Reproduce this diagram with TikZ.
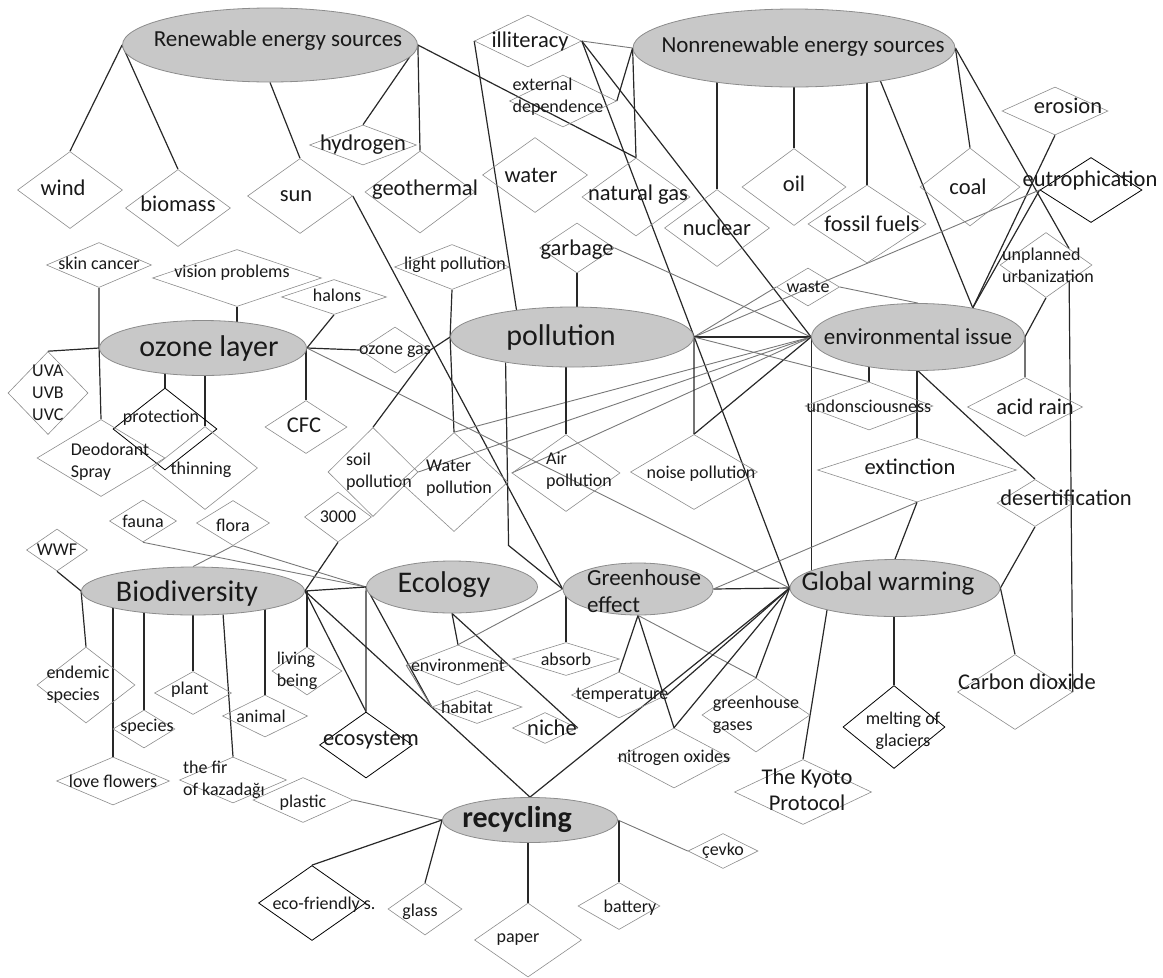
\documentclass[tikz,border=0pt]{standalone}
\usepackage{fontspec}
\setmainfont{Carlito}
\usetikzlibrary{shapes.geometric}
\definecolor{ellfill}{RGB}{200,200,200}
\definecolor{ellline}{RGB}{140,140,140}
\definecolor{dialine}{RGB}{140,140,140}
\definecolor{tiedark}{RGB}{40,40,40}
\definecolor{tiegrey}{RGB}{120,120,120}
\definecolor{txtcol}{RGB}{25,25,25}
\pgfdeclarelayer{bg}
\pgfsetlayers{bg,main}
\tikzset{
  topic/.style 2 args={ellipse, draw=ellline, fill=ellfill, line width=0.8pt,
    minimum width=#1pt, minimum height=#2pt, inner sep=0pt},
  dia/.style 2 args={diamond, draw=dialine, line width=0.6pt,
    minimum width=#1pt, minimum height=#2pt, inner sep=0pt},
  bdia/.style 2 args={dia={#1}{#2}, draw=black, line width=0.8pt},
  sm/.style={text=txtcol, font=\fontsize{18}{22}\selectfont},
  md/.style={text=txtcol, font=\fontsize{22.5}{26}\selectfont},
  lt/.style={text=txtcol, font=\fontsize{23}{27}\selectfont},
  gt/.style={text=txtcol, font=\fontsize{27}{30}\selectfont},
  bt/.style={text=txtcol, font=\fontsize{30}{33}\selectfont},
  tie/.style={draw=tiedark, line width=1.2pt},
  tiegray/.style={draw=tiegrey, line width=0.9pt}
}
\begin{document}
\begin{tikzpicture}[x=1pt,y=-1pt]
\useasboundingbox (0,0) rectangle (1163,978);
% main topics
\node[topic={295}{74}, label={[lt,xshift=8pt,yshift=5pt]center:Renewable energy sources}] (ren) at (270,45) {};
\node[topic={322}{78}, label={[lt,xshift=9pt,yshift=2pt]center:Nonrenewable energy sources}] (nonren) at (794,48) {};
\node[topic={207}{55}, label={[bt,xshift=6pt]center:ozone layer}] (ozone) at (203,348) {};
\node[topic={243}{60}, label={[bt,xshift=-11pt]center:pollution}] (poll) at (572,337) {};
\node[topic={213}{67}, label={[lt]center:environmental issue}] (env) at (918,337) {};
\node[topic={223}{48}, label={[bt,xshift=-6pt,yshift=-2pt]center:Biodiversity}] (bio) at (193,591) {};
\node[topic={171}{52}, label={[bt,xshift=-8pt,yshift=2pt]center:Ecology}] (eco) at (452,587) {};
\node[topic={150}{52}, label={[lt,align=left,xshift=6pt,yshift=-2pt]center:Greenhouse\\effect}] (ghe) at (638,589) {};
\node[topic={210}{57}, label={[gt,xshift=-7pt,yshift=5pt]center:Global warming}] (gw) at (895,588) {};
\node[topic={175}{45}, label={[bt,xshift=-13pt]center:\textbf{recycling}}] (rec) at (530,820) {};
% energy
\node[dia={105}{77}, label={[md,xshift=-7pt,yshift=2pt]center:wind}] (wind) at (70,190) {};
\node[dia={105}{77}, label={[md,yshift=4pt]center:biomass}] (biomass) at (178,208) {};
\node[dia={105}{75}, label={[md,xshift=-4pt]center:sun}] (sun) at (300,196) {};
\node[dia={107}{40}, label={[md]center:hydrogen}] (hydrogen) at (363,145) {};
\node[dia={110}{82}, label={[md,xshift=5pt,yshift=2pt]center:geothermal}] (geoth) at (420,192) {};
\node[dia={105}{75}, label={[md,xshift=-4pt]center:water}] (water) at (535,175) {};
\node[dia={107}{52}, label={[md,xshift=2pt]center:illiteracy}] (illit) at (528,41) {};
\node[dia={107}{52}, label={[sm,align=left,xshift=-5pt,yshift=4pt]center:external\\dependence}] (extdep) at (563,101) {};
\node[dia={108}{78}, label={[md,xshift=2pt,yshift=2pt]center:natural gas}] (natgas) at (636,197) {};
\node[dia={105}{77}, label={[md]center:nuclear}] (nuclear) at (717,228) {};
\node[dia={104}{77}, label={[md,yshift=3pt]center:oil}] (oil) at (794,187) {};
\node[dia={118}{78}, label={[md,xshift=5pt]center:fossil fuels}] (fossil) at (867,224) {};
\node[dia={100}{78}, label={[md,xshift=-2pt]center:coal}] (coal) at (970,187) {};
\node[dia={106}{48}, label={[md,xshift=13pt,yshift=5pt]center:erosion}] (erosion) at (1055,111) {};
\node[bdia={102}{65}, label={[md,xshift=-1pt,yshift=10pt]center:eutrophication}] (eutro) at (1091,190) {};
\node[dia={92}{65}, label={[sm,align=left,xshift=2pt]center:unplanned\\urbanization}] (unplan) at (1046,265) {};
\node[dia={63}{38}, label={[sm]center:waste}] (waste) at (808,287) {};
\node[dia={75}{50}, label={[md,yshift=-2pt]center:garbage}] (garbage) at (577,248) {};
\node[dia={115}{45}, label={[sm,xshift=3pt,yshift=2pt]center:light pollution}] (lightp) at (452,267) {};
% ozone layer
\node[dia={105}{45}, label={[sm,yshift=2pt]center:skin cancer}] (skin) at (99,265) {};
\node[dia={169}{57}, label={[sm,xshift=-5pt,yshift=5pt]center:vision problems}] (vision) at (237,278) {};
\node[dia={105}{35}, label={[sm,xshift=3pt,yshift=2pt]center:halons}] (halons) at (334,297) {};
\node[dia={70}{46}, label={[sm,yshift=-2pt]center:ozone gas}] (ozgas) at (395,350) {};
\node[dia={80}{83}, label={[sm,align=left]center:UVA\\UVB\\UVC}] (uv) at (48,393) {};
\node[bdia={104}{82}, label={[sm,xshift=-4pt,yshift=11pt]center:protection}] (protect) at (165,429) {};
\node[dia={128}{77}, label={[sm,align=left,xshift=9pt,yshift=-4pt]center:Deodorant\\Spray}] (deo) at (101,458) {};
\node[dia={105}{83}, label={[sm,xshift=-4pt,yshift=-2pt]center:thinning}] (thin) at (205,468) {};
\node[dia={82}{53}, label={[md,xshift=-2pt,yshift=2pt]center:CFC}] (cfc) at (306,427) {};
\node[dia={90}{89}, label={[sm,align=left,xshift=6pt]center:soil\\pollution}] (soil) at (373,472) {};
\node[dia={67}{50}, label={[sm]center:3000}] (n3000) at (338,517) {};
% pollution
\node[dia={108}{99}, label={[sm,align=left,xshift=5pt,yshift=4pt]center:Water\\pollution}] (waterp) at (454,482) {};
\node[dia={108}{77}, label={[sm,align=left,xshift=13pt,yshift=2pt]center:Air\\pollution}] (airp) at (566,473) {};
\node[dia={127}{75}, label={[sm,xshift=7pt,yshift=-2pt]center:noise pollution}] (noisep) at (694,472) {};
% environmental issue
\node[dia={128}{48}, label={[sm]center:undonsciousness}] (uncon) at (869,406) {};
\node[dia={115}{59}, label={[md,xshift=10pt]center:acid rain}] (acid) at (1025,407) {};
\node[dia={199}{64}, label={[md,xshift=-7pt,yshift=3pt]center:extinction}] (extinct) at (917,470) {};
\node[dia={76}{47}, label={[md,xshift=31pt,yshift=5pt]center:desertification}] (desert) at (1035,503) {};
% biodiversity
\node[dia={67}{42}, label={[sm]center:fauna}] (fauna) at (143,521) {};
\node[dia={73}{45}, label={[sm,yshift=-2pt]center:flora}] (flora) at (233,523) {};
\node[dia={61}{42}, label={[sm]center:WWF}] (wwf) at (57,550) {};
\node[dia={98}{76}, label={[sm,align=left,xshift=-8pt]center:endemic\\species}] (endem) at (86,685) {};
\node[dia={62}{38}, label={[sm,xshift=3pt,yshift=2pt]center:species}] (species) at (144,729) {};
\node[dia={77}{43}, label={[sm,xshift=-3pt,yshift=3pt]center:plant}] (plant) at (193,693) {};
\node[dia={85}{42}, label={[sm,xshift=-4pt]center:animal}] (animal) at (265,716) {};
\node[dia={70}{48}, label={[sm,align=left,xshift=-10pt]center:living\\being}] (living) at (307,671) {};
\node[bdia={93}{66}, label={[md,xshift=5pt,yshift=5pt]center:ecosystem}] (ecosys) at (366,745) {};
\node[dia={113}{48}, label={[sm]center:love flowers}] (love) at (113,781) {};
\node[dia={107}{46}, label={[sm,align=left,xshift=-9pt]center:the fir\\of kazadağı}] (fir) at (233,780) {};
\node[dia={100}{45}, label={[sm,yshift=-3pt]center:plastic}] (plastic) at (303,800) {};
% ecology
\node[dia={103}{40}, label={[sm]center:environment}] (environ) at (458,665) {};
\node[dia={90}{33}, label={[sm,xshift=-10pt]center:habitat}] (habitat) at (477,707) {};
\node[dia={65}{31}, label={[md,xshift=7pt]center:niche}] (niche) at (545,728) {};
% greenhouse effect
\node[dia={107}{33}, label={[sm]center:absorb}] (absorb) at (566,659) {};
\node[dia={95}{46}, label={[sm,xshift=3pt]center:temperature}] (temp) at (619,695) {};
\node[dia={108}{74}, label={[sm,align=left]center:greenhouse\\gases}] (ghgas) at (756,715) {};
\node[dia={113}{60}, label={[sm]center:nitrogen oxides}] (nitro) at (674,758) {};
% global warming
\node[dia={137}{65}, label={[md,align=center,xshift=4pt,yshift=2pt]center:The Kyoto\\Protocol}] (kyoto) at (803,792) {};
\node[bdia={102}{83}, label={[sm,align=center,xshift=9pt,yshift=-4pt]center:melting of\\glaciers}] (melt) at (894,727) {};
\node[dia={115}{75}, label={[md,xshift=12pt,yshift=10pt]center:Carbon dioxide}] (co2) at (1015,692) {};
% recycling
\node[bdia={107}{75}, label={[sm,xshift=12pt,yshift=-2pt]center:eco-friendly s.}] (ecofr) at (312,903) {};
\node[dia={74}{52}, label={[sm,xshift=-5pt,yshift=-3pt]center:glass}] (glass) at (425,909) {};
\node[dia={107}{74}, label={[sm,xshift=-10pt]center:paper}] (paper) at (528,940) {};
\node[dia={82}{47}, label={[sm,xshift=11pt,yshift=-2pt]center:battery}] (battery) at (619,906) {};
\node[dia={70}{35}, label={[sm]center:çevko}] (cevko) at (723,851) {};

\begin{pgfonlayer}{bg}
% energy sources
\draw[tie] (ren.west) -- (wind.north);
\draw[tie] (ren.west) -- (biomass.north);
\draw[tie] (ren.south) -- (sun.north);
\draw[tie] (ren.east) -- (hydrogen.north);
\draw[tie] (ren.east) -- (geoth.north);
\draw[tie] (ren.east) -- (natgas.north);
\draw[tie] (sun.east) -- (ghe.west);
\draw[tie] (nonren.west) -- (natgas.north);
\draw[tie] (nuclear.north) -- (nuclear.north |- nonren.center);
\draw[tie] (oil.north) -- (oil.north |- nonren.center);
\draw[tie] (fossil.north) -- (fossil.north |- nonren.center);
\draw[tie] (fossil.north |- nonren.center) -- (env.28);
\draw[tie] (nonren.east) -- (coal.north);
\draw[tie] (nonren.east) -- (unplan.north east);
\draw[tiegray] (illit.east) -- (nonren.west);
\draw[tie] (extdep.east) -- (nonren.west);
\draw[tie] (illit.west) -- (poll.154);
\draw[tie] (illit.east) -- (env.west);
\draw[tie] (illit.east) -- (gw.west);
% environmental issue
\draw[tie] (erosion.south) -- (env.28);
\draw[tie] (eutro.west) -- (env.28);
\draw[tiegray] (eutro.west) -- (poll.east);
\draw[tie] (unplan.south) -- (env.east);
\draw[tie] (unplan.south east) -- (co2.east);
\draw[tie] (env.east) -- (acid.north);
\draw[tiegray] (waste.east) -- (env.north);
\draw[tiegray] (waste.west) -- (poll.east);
\draw[tiegray] (garbage.east) -- (env.west);
\draw[tie] (poll.east) -- (env.west);
\draw[tiegray] (soil.east) -- (env.west);
\draw[tiegray] (waterp.north) -- (env.west);
\draw[tiegray] (airp.west) -- (env.west);
\draw[tie] (env.west) -- (noisep.north);
\draw[tie] (env.west) -- (env.west |- gw.center);
\draw[tie] (uncon.north) -- (uncon.north |- env.center);
\draw[tie] (extinct.north) -- (extinct.north |- env.center);
\draw[tie] (env.south) -- (desert.north);
% pollution
\draw[tie] (garbage.south) -- (garbage.south |- poll.center);
\draw[tie] (lightp.south) -- (poll.west);
\draw[tie] (poll.west) -- (waterp.north);
\draw[tie] (airp.north) -- (airp.north |- poll.center);
\draw[tie] (poll.east) -- (noisep.north);
\draw[tiegray] (poll.east) -- (uncon.north);
\draw[tie] (poll.201) -- ++(3,183) -- (ghe.west);
% ozone layer
\draw[tie] (skin.south) -- (ozone.west);
\draw[tie] (ozone.west) -- (deo.north);
\draw[tie] (ozone.west) -- (uv.north);
\draw[tie] (vision.south) -- (vision.south |- ozone.center);
\draw[tie] (halons.south) -- (ozone.east);
\draw[tie] (ozone.east) -- (ozgas.west);
\draw[tie] (ozgas.east) -- (poll.west);
\draw[tie] (protect.north) -- (protect.north |- ozone.center);
\draw[tie] (thin.north) -- (thin.north |- ozone.center);
\draw[tie] (cfc.north) -- (cfc.north |- ozone.center);
\draw[tiegray] (ozone.east) -- (gw.west);
\draw[tie] (soil.north) -- (ozgas.east);
\draw[tie] (n3000.south) -- (bio.east);
% biodiversity and ecology
\draw[tie] (wwf.south) -- (bio.west);
\draw[tiegray] (flora.south) -- (bio.north);
\draw[tiegray] (fauna.south) -- (eco.west);
\draw[tiegray] (flora.south) -- (eco.west);
\draw[tie] (bio.east) -- (eco.west);
\draw[tie] (bio.west) -- (endem.north);
\draw[tie] (love.north) -- (love.north |- bio.center);
\draw[tie] (species.north) -- (species.north |- bio.center);
\draw[tie] (plant.north) -- (plant.north |- bio.center);
\draw[tie] (bio.322) -- (fir.north);
\draw[tie] (animal.north) -- (animal.north |- bio.center);
\draw[tie] (living.north) -- (living.north |- bio.center);
\draw[tie] (bio.east) -- (ecosys.north);
\draw[tie] (bio.east) -- (rec.north);
\draw[tie] (eco.west) -- (ecosys.north);
\draw[tie] (eco.west) -- (habitat.west);
\draw[tie] (eco.south) -- (environ.north);
\draw[tie] (eco.south) -- (niche.east);
\draw[tiegray] (environ.west) -- (habitat.west);
\draw[tiegray] (environ.north) -- (ghe.west);
% greenhouse effect and global warming
\draw[tie] (absorb.north) -- (absorb.north |- ghe.center);
\draw[tie] (ghe.south) -- (temp.north);
\draw[tie] (ghe.south) -- (nitro.north);
\draw[tiegray] (ghe.south) -- (ghgas.north);
\draw[tie] (ghe.east) -- (gw.west);
\draw[tiegray] (ghe.east) -- (extinct.south);
\draw[tie] (gw.north) -- (extinct.south);
\draw[tie] (gw.east) -- (desert.south);
\draw[tie] (gw.east) -- (co2.north);
\draw[tie] (melt.north) -- (melt.north |- gw.center);
\draw[tie] (gw.198) -- (kyoto.north);
\draw[tie] (gw.west) -- (rec.north);
\draw[tie] (gw.west) -- (temp.east);
\draw[tie] (gw.west) -- (nitro.north);
\draw[tie] (gw.west) -- (ghgas.north);
% recycling
\draw[tiegray] (plastic.east) -- (rec.west);
\draw[tie] (ecofr.north) -- (rec.west);
\draw[tie] (rec.west) -- (glass.north);
\draw[tie] (paper.north) -- (paper.north |- rec.center);
\draw[tie] (battery.north) -- (battery.north |- rec.center);
\draw[tiegray] (rec.east) -- (cevko.west);
\end{pgfonlayer}
\end{tikzpicture}
\end{document}
